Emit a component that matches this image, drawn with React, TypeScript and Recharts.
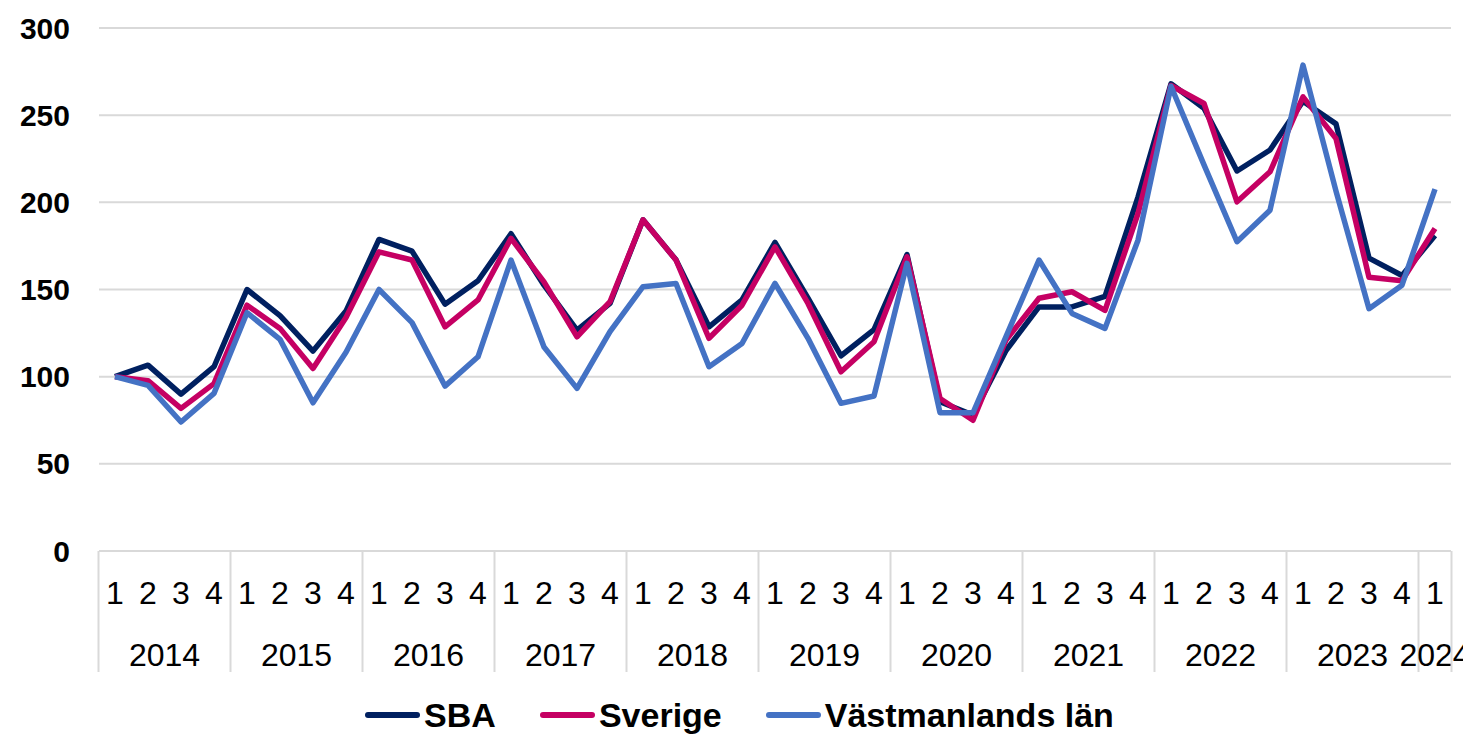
import React from 'react';
import { LineChart, Line, XAxis, YAxis, CartesianGrid } from 'recharts';

// Quarterly index, 2014 Q1 = 100
const years = [2014, 2015, 2016, 2017, 2018, 2019, 2020, 2021, 2022, 2023, 2024];
const quartersPerYear = [4, 4, 4, 4, 4, 4, 4, 4, 4, 4, 1];
const yTicks = [0, 50, 100, 150, 200, 250, 300];

const sba = [
  100, 106.6, 90, 105.7, 150, 135, 114.7, 137.6, 178.7, 172, 141.6, 155,
  182, 152.5, 126.7, 142, 190, 167, 128.6, 144, 177, 145, 112, 127,
  170, 85.6, 78, 115, 140, 140, 146, 203, 268, 254, 218, 230,
  258, 245, 168, 158, 181,
];
const sverige = [
  100, 97.7, 81.8, 96, 141, 127.7, 104.7, 134, 171.6, 166.9, 128.6, 144,
  179.3, 154.4, 122.9, 143, 190, 166.9, 122, 141, 174.5, 142, 102.8, 120,
  168.8, 87.5, 75, 121, 145, 148.7, 138, 193.6, 267, 256.7, 200.3, 217.5,
  260.5, 236.6, 157, 155, 185,
];
const vastmanland = [
  100, 95, 74, 90.4, 136.7, 121.4, 85, 114, 150, 131, 94.6, 111.4,
  166.9, 117, 93.3, 125.8, 151.6, 153.5, 105.7, 119, 153.5, 122, 84.7, 88.9,
  165, 79.3, 79.3, 123, 166.9, 136.3, 127.7, 178.3, 266.6, 221.5, 177.4, 195.5,
  278.7, 206.4, 139, 152.5, 207.6,
];

const categories = years.flatMap((yr, i) =>
  Array.from({ length: quartersPerYear[i] }, (_, q) => `${yr}-${q + 1}`)
);

const chartData = categories.map((period, i) => ({
  period,
  sba: sba[i],
  sverige: sverige[i],
  vastmanland: vastmanland[i],
}));

const FONT = '"Liberation Sans", Arial, sans-serif';
const GRID = '#d9d9d9';
const CHART_W = 1463;
const CHART_H = 726;
const Y_AXIS_W = 91;
const MARGIN = { top: 20, right: 20, left: 0, bottom: 0 };
const PAD = 16;
const PLOT_W = CHART_W - Y_AXIS_W - MARGIN.right - MARGIN.left;
const STEP = (PLOT_W - 2 * PAD) / (categories.length - 1);

const series = [
  { key: 'sba', name: 'SBA', color: '#002060' },
  { key: 'sverige', name: 'Sverige', color: '#C50063' },
  { key: 'vastmanland', name: 'Västmanlands län', color: '#4472C4' },
];

const QuarterTick = (props: any) => {
  const { x, y, payload } = props;
  const [yr, q] = String(payload.value).split('-');
  const idx = categories.indexOf(payload.value);
  const count = quartersPerYear[years.indexOf(Number(yr))];
  const isLast = idx === categories.length - 1;
  return (
    <g>
      <text x={x} y={y + 53} textAnchor="middle" fontSize={32} fontFamily={FONT} fill="#000">
        {q}
      </text>
      {q === '1' && (
        <>
          <line x1={x - STEP / 2} x2={x - STEP / 2} y1={y} y2={y + 121} stroke={GRID} strokeWidth={2} />
          <text
            x={x + ((count - 1) * STEP) / 2}
            y={y + 115}
            textAnchor="middle"
            fontSize={32}
            fontFamily={FONT}
            fill="#000"
          >
            {yr}
          </text>
        </>
      )}
      {isLast && (
        <line x1={x + STEP / 2} x2={x + STEP / 2} y1={y} y2={y + 121} stroke={GRID} strokeWidth={2} />
      )}
    </g>
  );
};

export default function App() {
  return (
    <div style={{ position: 'relative', width: CHART_W, height: CHART_H, fontFamily: FONT }}>
      <LineChart width={CHART_W} height={CHART_H} data={chartData} margin={MARGIN}>
        <CartesianGrid vertical={false} stroke={GRID} strokeWidth={2} />
        <XAxis
          dataKey="period"
          interval={0}
          height={CHART_H - 543 - MARGIN.bottom}
          padding={{ left: PAD, right: PAD }}
          axisLine={{ stroke: GRID, strokeWidth: 2 }}
          tickLine={false}
          tickSize={0}
          tickMargin={0}
          tick={<QuarterTick />}
        />
        <YAxis
          domain={[0, 300]}
          ticks={yTicks}
          width={Y_AXIS_W}
          axisLine={false}
          tickLine={false}
          tickSize={0}
          tickMargin={29}
          tick={{ fontSize: 30, fontWeight: 700, fill: '#000', fontFamily: FONT }}
        />
        {series.map((s) => (
          <Line
            key={s.key}
            type="linear"
            dataKey={s.key}
            name={s.name}
            stroke={s.color}
            strokeWidth={5.5}
            strokeLinejoin="round"
            dot={false}
            isAnimationActive={false}
          />
        ))}
      </LineChart>
      <div
        style={{
          position: 'absolute',
          left: 0,
          top: 688,
          width: CHART_W,
          height: 38,
          display: 'flex',
          justifyContent: 'center',
          alignItems: 'center',
          gap: 44,
        }}
      >
        {series.map((s) => (
          <div key={s.key} style={{ display: 'flex', alignItems: 'center' }}>
            <div style={{ width: 55, height: 6, borderRadius: 3, background: s.color, marginRight: 4 }} />
            <span style={{ fontSize: 34, fontWeight: 700, color: '#000', lineHeight: '38px' }}>{s.name}</span>
          </div>
        ))}
      </div>
    </div>
  );
}
